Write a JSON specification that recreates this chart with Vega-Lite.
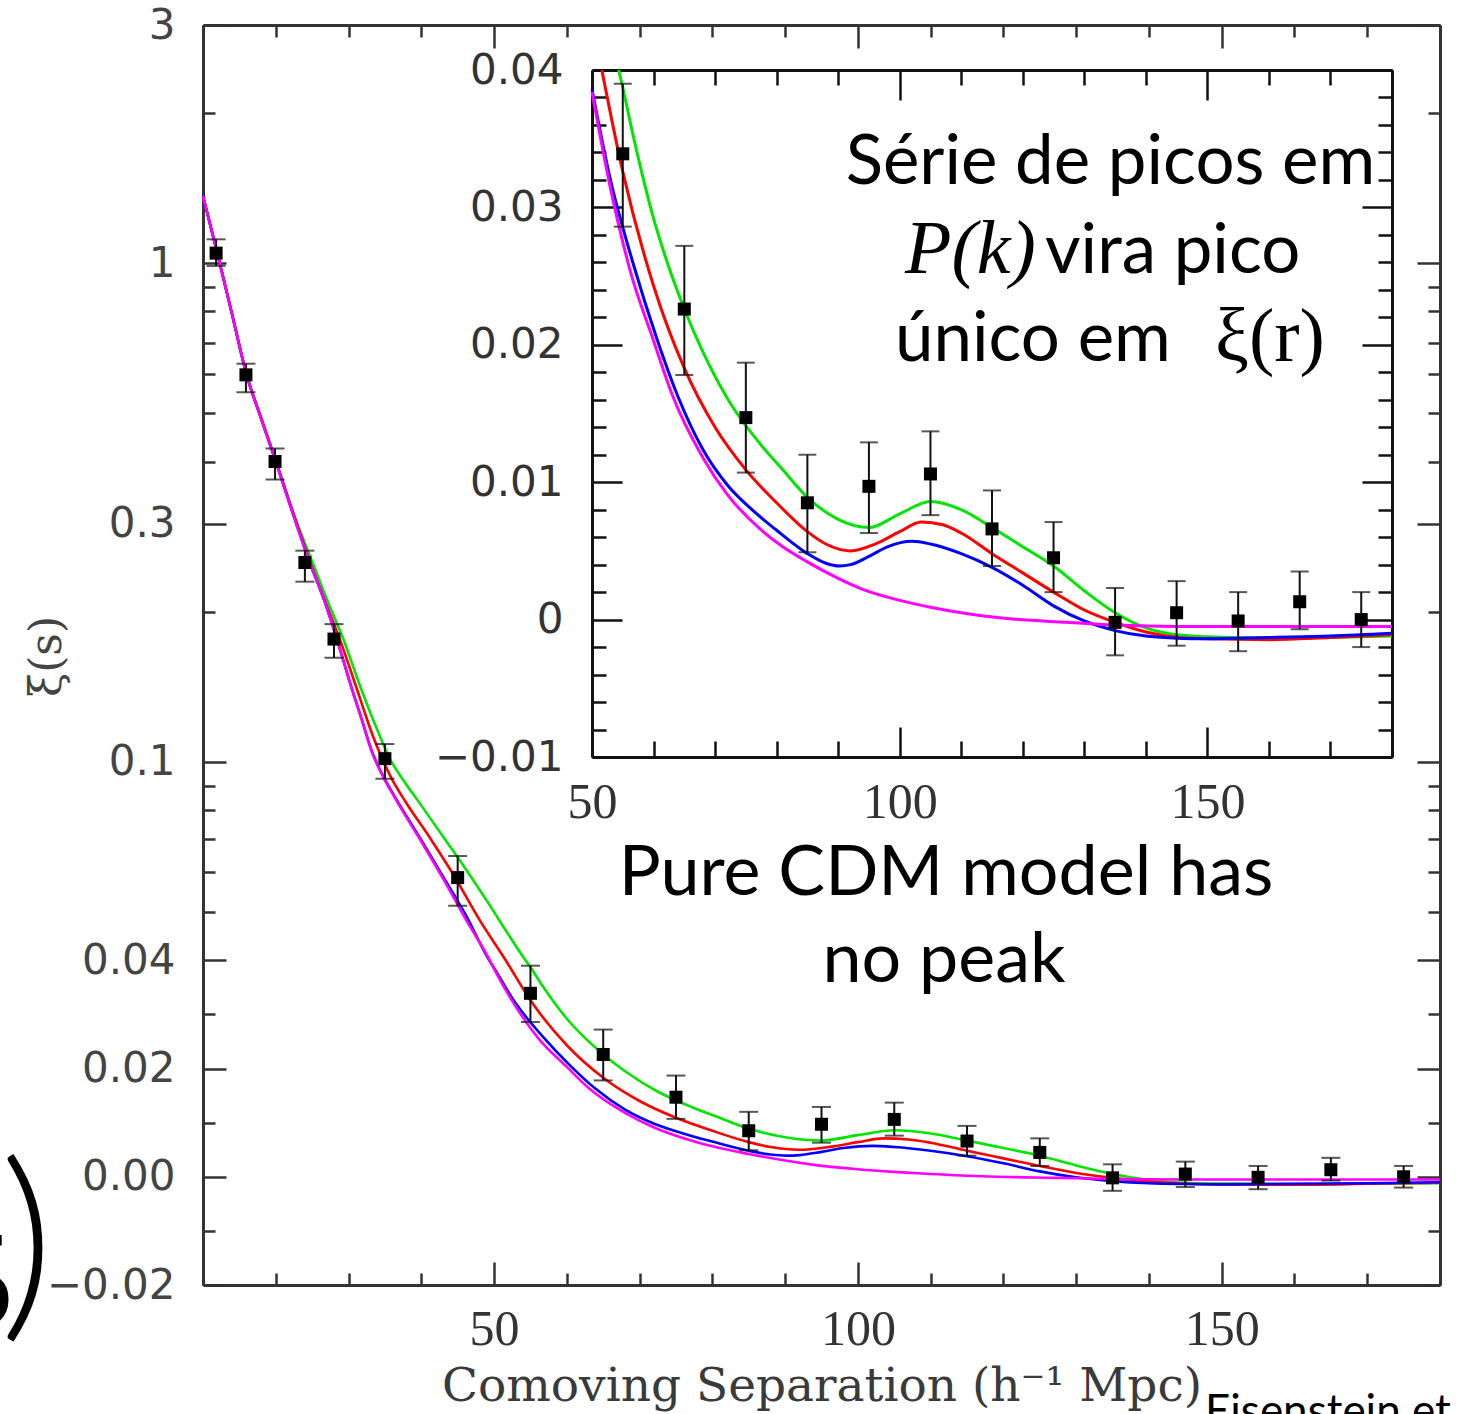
{
"$schema": "https://vega.github.io/schema/vega-lite/v6.json",
"width": 1237,
"height": 1260,
"autosize": "none",
"padding": {"left": 203, "top": 25, "right": 24, "bottom": 129},
"background": "white",
"config": {"view": {"stroke": null}, "axis": {"grid": false}},
"datasets": {
"curves": [
{"m":"green","s":10,"xi":1.37},{"m":"green","s":11.9,"xi":1.06},{"m":"green","s":14,"xi":0.79},{"m":"green","s":16,"xi":0.598},{"m":"green","s":18,"xi":0.491},{"m":"green","s":20,"xi":0.403},{"m":"green","s":22.3,"xi":0.321},{"m":"green","s":25.1,"xi":0.25},{"m":"green","s":27,"xi":0.213},{"m":"green","s":29.28,"xi":0.178},{"m":"green","s":31.85,"xi":0.1393},{"m":"green","s":34.05,"xi":0.1153},{"m":"green","s":35.7,"xi":0.1014},{"m":"green","s":37.35,"xi":0.0932},{"m":"green","s":39.82,"xi":0.0827},{"m":"green","s":43.12,"xi":0.0704},{"m":"green","s":46.24,"xi":0.0606},{"m":"green","s":49.44,"xi":0.0516},{"m":"green","s":51.86,"xi":0.0456},{"m":"green","s":54.33,"xi":0.04},{"m":"green","s":54.6,"xi":0.0395},{"m":"green","s":57,"xi":0.0346},{"m":"green","s":60,"xi":0.0292},{"m":"green","s":62,"xi":0.0263},{"m":"green","s":65.1,"xi":0.0225},{"m":"green","s":68,"xi":0.0195},{"m":"green","s":72.4,"xi":0.0158},{"m":"green","s":77.3,"xi":0.0128},{"m":"green","s":81,"xi":0.0109},{"m":"green","s":85,"xi":0.0089},{"m":"green","s":90,"xi":0.0073},{"m":"green","s":95,"xi":0.0067},{"m":"green","s":100,"xi":0.0077},{"m":"green","s":105,"xi":0.0086},{"m":"green","s":110,"xi":0.008},{"m":"green","s":115,"xi":0.0067},{"m":"green","s":120,"xi":0.0053},{"m":"green","s":125,"xi":0.0039},{"m":"green","s":130,"xi":0.0021},{"m":"green","s":135,"xi":0.0005},{"m":"green","s":140,"xi":-0.0006},{"m":"green","s":145,"xi":-0.0011},{"m":"green","s":150,"xi":-0.00125},{"m":"green","s":160,"xi":-0.00134},{"m":"green","s":170,"xi":-0.0013},{"m":"green","s":180,"xi":-0.0012},
{"m":"red","s":10,"xi":1.37},{"m":"red","s":11.9,"xi":1.06},{"m":"red","s":14,"xi":0.79},{"m":"red","s":16,"xi":0.597},{"m":"red","s":18,"xi":0.489},{"m":"red","s":20,"xi":0.401},{"m":"red","s":22.3,"xi":0.321},{"m":"red","s":24.7,"xi":0.252},{"m":"red","s":26.7,"xi":0.212},{"m":"red","s":28.83,"xi":0.1772},{"m":"red","s":31.58,"xi":0.1349},{"m":"red","s":33.23,"xi":0.1142},{"m":"red","s":34.6,"xi":0.1018},{"m":"red","s":35.97,"xi":0.0928},{"m":"red","s":37.76,"xi":0.0838},{"m":"red","s":41.2,"xi":0.0704},{"m":"red","s":44.36,"xi":0.0596},{"m":"red","s":48.07,"xi":0.0482},{"m":"red","s":51.6,"xi":0.04},{"m":"red","s":55,"xi":0.0326},{"m":"red","s":60,"xi":0.0243},{"m":"red","s":65,"xi":0.0183},{"m":"red","s":70,"xi":0.014},{"m":"red","s":75,"xi":0.0109},{"m":"red","s":80,"xi":0.0085},{"m":"red","s":85,"xi":0.0064},{"m":"red","s":88,"xi":0.0055},{"m":"red","s":92,"xi":0.005},{"m":"red","s":96,"xi":0.0055},{"m":"red","s":100,"xi":0.0064},{"m":"red","s":103.5,"xi":0.0071},{"m":"red","s":107,"xi":0.0069},{"m":"red","s":110,"xi":0.0063},{"m":"red","s":115,"xi":0.0048},{"m":"red","s":120,"xi":0.0034},{"m":"red","s":125,"xi":0.002},{"m":"red","s":130,"xi":0.0007},{"m":"red","s":135,"xi":-0.0002},{"m":"red","s":140,"xi":-0.0009},{"m":"red","s":145,"xi":-0.00128},{"m":"red","s":150,"xi":-0.0014},{"m":"red","s":160,"xi":-0.00146},{"m":"red","s":170,"xi":-0.0013},{"m":"red","s":180,"xi":-0.0011},
{"m":"blue","s":10,"xi":1.37},{"m":"blue","s":11.9,"xi":1.06},{"m":"blue","s":14,"xi":0.79},{"m":"blue","s":16,"xi":0.596},{"m":"blue","s":18,"xi":0.488},{"m":"blue","s":20,"xi":0.4},{"m":"blue","s":22.3,"xi":0.318},{"m":"blue","s":24.7,"xi":0.25},{"m":"blue","s":26.7,"xi":0.211},{"m":"blue","s":28.4,"xi":0.178},{"m":"blue","s":30.48,"xi":0.1406},{"m":"blue","s":31.85,"xi":0.1213},{"m":"blue","s":33.23,"xi":0.1051},{"m":"blue","s":34.6,"xi":0.095},{"m":"blue","s":36.39,"xi":0.0854},{"m":"blue","s":39.82,"xi":0.0704},{"m":"blue","s":42.98,"xi":0.059},{"m":"blue","s":46.14,"xi":0.0493},{"m":"blue","s":49.3,"xi":0.0401},{"m":"blue","s":50,"xi":0.0386},{"m":"blue","s":53,"xi":0.032},{"m":"blue","s":56.7,"xi":0.0259},{"m":"blue","s":60.5,"xi":0.0205},{"m":"blue","s":64,"xi":0.0162},{"m":"blue","s":68,"xi":0.0124},{"m":"blue","s":72,"xi":0.0098},{"m":"blue","s":76,"xi":0.008},{"m":"blue","s":80,"xi":0.0065},{"m":"blue","s":85,"xi":0.0048},{"m":"blue","s":88,"xi":0.0041},{"m":"blue","s":90.2,"xi":0.0039},{"m":"blue","s":92,"xi":0.004},{"m":"blue","s":95,"xi":0.0046},{"m":"blue","s":98,"xi":0.0053},{"m":"blue","s":102,"xi":0.0057},{"m":"blue","s":105,"xi":0.0055},{"m":"blue","s":110,"xi":0.0048},{"m":"blue","s":115,"xi":0.0038},{"m":"blue","s":120,"xi":0.0025},{"m":"blue","s":125,"xi":0.001},{"m":"blue","s":130,"xi":-0.0001},{"m":"blue","s":135,"xi":-0.0008},{"m":"blue","s":140,"xi":-0.0012},{"m":"blue","s":145,"xi":-0.00135},{"m":"blue","s":150,"xi":-0.0014},{"m":"blue","s":160,"xi":-0.0013},{"m":"blue","s":170,"xi":-0.0012},{"m":"blue","s":180,"xi":-0.001},
{"m":"magenta","s":10,"xi":1.37},{"m":"magenta","s":11.9,"xi":1.06},{"m":"magenta","s":14,"xi":0.79},{"m":"magenta","s":16,"xi":0.596},{"m":"magenta","s":18,"xi":0.488},{"m":"magenta","s":20,"xi":0.4},{"m":"magenta","s":22.3,"xi":0.318},{"m":"magenta","s":24.7,"xi":0.25},{"m":"magenta","s":26.7,"xi":0.211},{"m":"magenta","s":28.4,"xi":0.178},{"m":"magenta","s":30.48,"xi":0.1403},{"m":"magenta","s":31.85,"xi":0.121},{"m":"magenta","s":33.23,"xi":0.1048},{"m":"magenta","s":34.6,"xi":0.0947},{"m":"magenta","s":36.39,"xi":0.085},{"m":"magenta","s":39.82,"xi":0.0699},{"m":"magenta","s":42.98,"xi":0.0585},{"m":"magenta","s":46.14,"xi":0.0484},{"m":"magenta","s":49.4,"xi":0.04},{"m":"magenta","s":50,"xi":0.0384},{"m":"magenta","s":53,"xi":0.0314},{"m":"magenta","s":56.2,"xi":0.0254},{"m":"magenta","s":60,"xi":0.0203},{"m":"magenta","s":63,"xi":0.0164},{"m":"magenta","s":68,"xi":0.0118},{"m":"magenta","s":72,"xi":0.0091},{"m":"magenta","s":77.3,"xi":0.0066},{"m":"magenta","s":81,"xi":0.0053},{"m":"magenta","s":85,"xi":0.0042},{"m":"magenta","s":90,"xi":0.003},{"m":"magenta","s":94,"xi":0.0022},{"m":"magenta","s":100,"xi":0.0014},{"m":"magenta","s":105,"xi":0.0009},{"m":"magenta","s":110,"xi":0.0005},{"m":"magenta","s":117,"xi":0.0001},{"m":"magenta","s":127,"xi":-0.0002},{"m":"magenta","s":135,"xi":-0.0004},{"m":"magenta","s":145,"xi":-0.0005},{"m":"magenta","s":160,"xi":-0.0005},{"m":"magenta","s":180,"xi":-0.0005}
],
"pts": [
{"s":11.8,"xi":1.05,"lo":0.988,"hi":1.12},
{"s":15.9,"xi":0.597,"lo":0.553,"hi":0.632},
{"s":19.9,"xi":0.4,"lo":0.371,"hi":0.427},
{"s":24,"xi":0.251,"lo":0.231,"hi":0.266},
{"s":28,"xi":0.178,"lo":0.163,"hi":0.19},
{"s":35,"xi":0.1016,"lo":0.093,"hi":0.109},
{"s":45,"xi":0.0587,"lo":0.0516,"hi":0.0649},
{"s":55,"xi":0.0339,"lo":0.0286,"hi":0.039},
{"s":65,"xi":0.0226,"lo":0.0178,"hi":0.0272},
{"s":75,"xi":0.0147,"lo":0.0107,"hi":0.0187},
{"s":85,"xi":0.0085,"lo":0.0049,"hi":0.012},
{"s":95,"xi":0.0097,"lo":0.0063,"hi":0.0129},
{"s":105,"xi":0.0106,"lo":0.0076,"hi":0.0137},
{"s":115,"xi":0.0066,"lo":0.0039,"hi":0.0094},
{"s":125,"xi":0.0045,"lo":0.002,"hi":0.0071},
{"s":135,"xi":-0.0002,"lo":-0.0026,"hi":0.0023},
{"s":145,"xi":0.0005,"lo":-0.0019,"hi":0.0028},
{"s":155,"xi":-0.0001,"lo":-0.0023,"hi":0.002},
{"s":165,"xi":0.0013,"lo":-0.0007,"hi":0.0035},
{"s":175,"xi":0.0,"lo":-0.002,"hi":0.002}
],
"notes": [
{"g":"cs","t":"Série de picos em","s":134.25,"xi":0.0317},
{"g":"cl","t":"vira pico","s":123.61,"xi":0.02523},
{"g":"cl","t":"único em","s":99.24,"xi":0.01882},
{"g":"ci","t":"P(k)","s":100.86,"xi":0.02523},
{"g":"cg","t":"ξ(r)","s":151.24,"xi":0.01882},
{"g":"as","t":"Pure CDM model has","s":112.11,"xi":0.05424},
{"g":"as","t":"no peak","s":111.84,"xi":0.03607},
{"g":"al","t":"Eisenstein et al. 2005","s":147.7,"xi":-0.0461},
{"g":"a5","t":"5","s":-15.97,"xi":-0.0278},
{"g":"ap","t":")","s":-14.2,"xi":-0.02528}
]
},
"resolve": {"scale": {"x": "independent", "y": "independent"}, "axis": {"x": "independent", "y": "independent"}},
"layer": [
{
"layer": [
{"data": {"name": "curves"},
 "mark": {"type": "line", "interpolate": "monotone", "strokeWidth": 2.6},
 "encoding": {
  "x": {"field": "s", "type": "quantitative", "scale": {"domain": [10,180], "range": [0,1237], "zero": false, "nice": false}, "axis": null},
  "y": {"field": "xi", "type": "quantitative", "scale": {"domain": [-0.02,0.04,0.05,0.06,0.07,0.08,0.1,0.12,0.15,0.2,0.25,0.3,0.4,0.5,0.6,0.8,1,1.2,1.5,2,2.5,3], "range": [1260,935.3,886.96,847.47,814.07,785.15,736.81,697.31,648.97,586.65,538.31,498.82,436.5,388.16,348.67,286.35,238.01,198.51,150.17,87.85,39.51,0], "zero": false, "nice": false}, "axis": null},
  "color": {"field": "m", "type": "nominal", "scale": {"domain": ["green","red","blue","magenta"], "range": ["#00e600","#ff0000","#0000ff","#ff00ff"]}, "legend": null}
 }},
{"data": {"name": "pts"},
 "mark": {"type": "rule", "color": "#111", "strokeWidth": 2},
 "encoding": {
  "x": {"field": "s", "type": "quantitative", "scale": {"domain": [10,180], "range": [0,1237], "zero": false, "nice": false}, "axis": null},
  "y": {"field": "lo", "type": "quantitative", "scale": {"domain": [-0.02,0.04,0.05,0.06,0.07,0.08,0.1,0.12,0.15,0.2,0.25,0.3,0.4,0.5,0.6,0.8,1,1.2,1.5,2,2.5,3], "range": [1260,935.3,886.96,847.47,814.07,785.15,736.81,697.31,648.97,586.65,538.31,498.82,436.5,388.16,348.67,286.35,238.01,198.51,150.17,87.85,39.51,0], "zero": false, "nice": false}, "axis": null},
  "y2": {"field": "hi"}
 }},
{"data": {"name": "pts"},
 "mark": {"type": "tick", "orient": "horizontal", "color": "#111", "size": 19, "thickness": 2},
 "encoding": {
  "x": {"field": "s", "type": "quantitative", "scale": {"domain": [10,180], "range": [0,1237], "zero": false, "nice": false}, "axis": null},
  "y": {"field": "lo", "type": "quantitative", "scale": {"domain": [-0.02,0.04,0.05,0.06,0.07,0.08,0.1,0.12,0.15,0.2,0.25,0.3,0.4,0.5,0.6,0.8,1,1.2,1.5,2,2.5,3], "range": [1260,935.3,886.96,847.47,814.07,785.15,736.81,697.31,648.97,586.65,538.31,498.82,436.5,388.16,348.67,286.35,238.01,198.51,150.17,87.85,39.51,0], "zero": false, "nice": false}, "axis": null}
 }},
{"data": {"name": "pts"},
 "mark": {"type": "tick", "orient": "horizontal", "color": "#111", "size": 19, "thickness": 2},
 "encoding": {
  "x": {"field": "s", "type": "quantitative", "scale": {"domain": [10,180], "range": [0,1237], "zero": false, "nice": false}, "axis": null},
  "y": {"field": "hi", "type": "quantitative", "scale": {"domain": [-0.02,0.04,0.05,0.06,0.07,0.08,0.1,0.12,0.15,0.2,0.25,0.3,0.4,0.5,0.6,0.8,1,1.2,1.5,2,2.5,3], "range": [1260,935.3,886.96,847.47,814.07,785.15,736.81,697.31,648.97,586.65,538.31,498.82,436.5,388.16,348.67,286.35,238.01,198.51,150.17,87.85,39.51,0], "zero": false, "nice": false}, "axis": null}
 }},
{"data": {"name": "pts"},
 "mark": {"type": "square", "filled": true, "color": "#000", "size": 169, "opacity": 1},
 "encoding": {
  "x": {"field": "s", "type": "quantitative", "scale": {"domain": [10,180], "range": [0,1237], "zero": false, "nice": false}, "axis": null},
  "y": {"field": "xi", "type": "quantitative", "scale": {"domain": [-0.02,0.04,0.05,0.06,0.07,0.08,0.1,0.12,0.15,0.2,0.25,0.3,0.4,0.5,0.6,0.8,1,1.2,1.5,2,2.5,3], "range": [1260,935.3,886.96,847.47,814.07,785.15,736.81,697.31,648.97,586.65,538.31,498.82,436.5,388.16,348.67,286.35,238.01,198.51,150.17,87.85,39.51,0], "zero": false, "nice": false}, "axis": null}
 }},
{"data": {"name": "notes"}, "transform": [{"filter": "datum.g == 'as'"}],
 "mark": {"type": "text", "font": "Lato", "fontSize": 70, "align": "center", "baseline": "alphabetic", "color": "#000"},
 "encoding": {
  "x": {"field": "s", "type": "quantitative", "scale": {"domain": [10,180], "range": [0,1237], "zero": false, "nice": false}, "axis": null},
  "y": {"field": "xi", "type": "quantitative", "scale": {"domain": [-0.02,0.04,0.05,0.06,0.07,0.08,0.1,0.12,0.15,0.2,0.25,0.3,0.4,0.5,0.6,0.8,1,1.2,1.5,2,2.5,3], "range": [1260,935.3,886.96,847.47,814.07,785.15,736.81,697.31,648.97,586.65,538.31,498.82,436.5,388.16,348.67,286.35,238.01,198.51,150.17,87.85,39.51,0], "zero": false, "nice": false}, "axis": null},
  "text": {"field": "t"}
 }},
{"data": {"name": "notes"}, "transform": [{"filter": "datum.g == 'al'"}],
 "mark": {"type": "text", "font": "Lato", "fontSize": 44, "align": "left", "baseline": "alphabetic", "color": "#000"},
 "encoding": {
  "x": {"field": "s", "type": "quantitative", "scale": {"domain": [10,180], "range": [0,1237], "zero": false, "nice": false}, "axis": null},
  "y": {"field": "xi", "type": "quantitative", "scale": {"domain": [-0.02,0.04,0.05,0.06,0.07,0.08,0.1,0.12,0.15,0.2,0.25,0.3,0.4,0.5,0.6,0.8,1,1.2,1.5,2,2.5,3], "range": [1260,935.3,886.96,847.47,814.07,785.15,736.81,697.31,648.97,586.65,538.31,498.82,436.5,388.16,348.67,286.35,238.01,198.51,150.17,87.85,39.51,0], "zero": false, "nice": false}, "axis": null},
  "text": {"field": "t"}
 }},
{"data": {"name": "notes"}, "transform": [{"filter": "datum.g == 'a5'"}],
 "mark": {"type": "text", "font": "Liberation Serif", "fontSize": 140, "align": "right", "baseline": "alphabetic", "color": "#000"},
 "encoding": {
  "x": {"field": "s", "type": "quantitative", "scale": {"domain": [10,180], "range": [0,1237], "zero": false, "nice": false}, "axis": null},
  "y": {"field": "xi", "type": "quantitative", "scale": {"domain": [-0.02,0.04,0.05,0.06,0.07,0.08,0.1,0.12,0.15,0.2,0.25,0.3,0.4,0.5,0.6,0.8,1,1.2,1.5,2,2.5,3], "range": [1260,935.3,886.96,847.47,814.07,785.15,736.81,697.31,648.97,586.65,538.31,498.82,436.5,388.16,348.67,286.35,238.01,198.51,150.17,87.85,39.51,0], "zero": false, "nice": false}, "axis": null},
  "text": {"field": "t"}
 }},
{"data": {"name": "notes"}, "transform": [{"filter": "datum.g == 'ap'"}],
 "mark": {"type": "text", "font": "Lato", "fontWeight": 300, "fontSize": 210, "align": "center", "baseline": "alphabetic", "color": "#000"},
 "encoding": {
  "x": {"field": "s", "type": "quantitative", "scale": {"domain": [10,180], "range": [0,1237], "zero": false, "nice": false}, "axis": null},
  "y": {"field": "xi", "type": "quantitative", "scale": {"domain": [-0.02,0.04,0.05,0.06,0.07,0.08,0.1,0.12,0.15,0.2,0.25,0.3,0.4,0.5,0.6,0.8,1,1.2,1.5,2,2.5,3], "range": [1260,935.3,886.96,847.47,814.07,785.15,736.81,697.31,648.97,586.65,538.31,498.82,436.5,388.16,348.67,286.35,238.01,198.51,150.17,87.85,39.51,0], "zero": false, "nice": false}, "axis": null},
  "text": {"field": "t"}
 }}
]
},
{
"data": {"values": [{"s": 100, "xi": 0.5}]},
"mark": {"type": "point", "opacity": 0},
"encoding": {
 "x": {"field": "s", "type": "quantitative", "scale": {"domain": [10,180], "range": [0,1237], "zero": false, "nice": false},
  "axis": {"orient": "bottom", "values": [10,20,30,40,50,60,70,80,90,100,110,120,130,140,150,160,170,180],
   "labelExpr": "datum.value % 50 == 0 ? datum.label : ''",
   "tickSize": {"condition": {"test": "datum.value % 50 == 0", "value": -23}, "value": -12},
   "tickWidth": 2.5, "tickColor": "#333", "domainColor": "#333", "domainWidth": 3,
   "labelFont": "Liberation Serif", "labelFontSize": 50, "labelColor": "#333", "labelPadding": 42,
   "labelFlush": false, "labelOverlap": false,
   "title": "Comoving Separation (h⁻¹ Mpc)", "titleFont": "DejaVu Serif", "titleFontSize": 47, "titleFontWeight": "normal", "titleColor": "#3a3a3a", "titleY": 115, "titleBaseline": "alphabetic"}},
 "y": {"field": "xi", "type": "quantitative", "scale": {"domain": [-0.02,0.04,0.05,0.06,0.07,0.08,0.1,0.12,0.15,0.2,0.25,0.3,0.4,0.5,0.6,0.8,1,1.2,1.5,2,2.5,3], "range": [1260,935.3,886.96,847.47,814.07,785.15,736.81,697.31,648.97,586.65,538.31,498.82,436.5,388.16,348.67,286.35,238.01,198.51,150.17,87.85,39.51,0], "zero": false, "nice": false},
  "axis": {"orient": "left", "values": [-0.02,-0.01,0,0.01,0.02,0.03,0.04,0.05,0.06,0.07,0.08,0.09,0.1,0.2,0.3,0.4,0.5,0.6,0.7,0.8,0.9,1,2,3],
   "labelExpr": "datum.value == 0 ? '0.00' : datum.value == -0.02 ? '−0.02' : indexof([3,1,0.3,0.1,0.04,0.02], datum.value) >= 0 ? '' + datum.value : ''",
   "tickSize": {"condition": {"test": "indexof([3,1,0.3,0.1,0.04,0.02,0,-0.02], datum.value) >= 0", "value": -23}, "value": -12},
   "tickWidth": 2.5, "tickColor": "#333", "domainColor": "#333", "domainWidth": 3,
   "labelFont": "DejaVu Sans", "labelFontSize": 42, "labelColor": "#444", "labelPadding": 51,
   "labelFlush": false, "labelOverlap": false,
   "title": "ξ(s)", "titleFont": "DejaVu Serif", "titleFontSize": 44, "titleFontWeight": "normal", "titleColor": "#444", "titleX": -156, "titleY": 631, "titleAngle": -90, "titleAlign": "center", "titleBaseline": "middle"}}
}
},
{
"data": {"values": [{"s": 100, "xi": 0.5}]},
"mark": {"type": "point", "opacity": 0},
"encoding": {
 "x": {"field": "s", "type": "quantitative", "scale": {"domain": [10,180], "range": [0,1237], "zero": false, "nice": false},
  "axis": {"orient": "top", "values": [10,20,30,40,50,60,70,80,90,100,110,120,130,140,150,160,170,180], "labels": false, "title": null,
   "tickSize": {"condition": {"test": "datum.value % 50 == 0", "value": -23}, "value": -12},
   "tickWidth": 2.5, "tickColor": "#333", "domainColor": "#333", "domainWidth": 3}},
 "y": {"field": "xi", "type": "quantitative", "scale": {"domain": [-0.02,0.04,0.05,0.06,0.07,0.08,0.1,0.12,0.15,0.2,0.25,0.3,0.4,0.5,0.6,0.8,1,1.2,1.5,2,2.5,3], "range": [1260,935.3,886.96,847.47,814.07,785.15,736.81,697.31,648.97,586.65,538.31,498.82,436.5,388.16,348.67,286.35,238.01,198.51,150.17,87.85,39.51,0], "zero": false, "nice": false},
  "axis": {"orient": "right", "values": [-0.02,-0.01,0,0.01,0.02,0.03,0.04,0.05,0.06,0.07,0.08,0.09,0.1,0.2,0.3,0.4,0.5,0.6,0.7,0.8,0.9,1,2,3], "labels": false, "title": null,
   "tickSize": {"condition": {"test": "indexof([3,1,0.3,0.1,0.04,0.02,0,-0.02], datum.value) >= 0", "value": -23}, "value": -12},
   "tickWidth": 2.5, "tickColor": "#333", "domainColor": "#333", "domainWidth": 3}}
}
},
{
"layer": [
{"data": {"name": "curves"}, "transform": [{"filter": "datum.s >= 50 && datum.xi <= 0.0401"}],
 "mark": {"type": "line", "interpolate": "monotone", "strokeWidth": 3},
 "encoding": {
  "x": {"field": "s", "type": "quantitative", "scale": {"domain": [50,180], "range": [389,1189], "zero": false, "nice": false}, "axis": null},
  "y": {"field": "xi", "type": "quantitative", "scale": {"domain": [-0.01,0.04], "range": [732,45], "zero": false, "nice": false}, "axis": null},
  "color": {"field": "m", "type": "nominal", "scale": {"domain": ["green","red","blue","magenta"], "range": ["#00e600","#ff0000","#0000ff","#ff00ff"]}, "legend": null}
 }},
{"data": {"name": "pts"}, "transform": [{"filter": "datum.s >= 50"}],
 "mark": {"type": "rule", "color": "#111", "strokeWidth": 2},
 "encoding": {
  "x": {"field": "s", "type": "quantitative", "scale": {"domain": [50,180], "range": [389,1189], "zero": false, "nice": false}, "axis": null},
  "y": {"field": "lo", "type": "quantitative", "scale": {"domain": [-0.01,0.04], "range": [732,45], "zero": false, "nice": false}, "axis": null},
  "y2": {"field": "hi"}
 }},
{"data": {"name": "pts"}, "transform": [{"filter": "datum.s >= 50"}],
 "mark": {"type": "tick", "orient": "horizontal", "color": "#111", "size": 18, "thickness": 2},
 "encoding": {
  "x": {"field": "s", "type": "quantitative", "scale": {"domain": [50,180], "range": [389,1189], "zero": false, "nice": false}, "axis": null},
  "y": {"field": "lo", "type": "quantitative", "scale": {"domain": [-0.01,0.04], "range": [732,45], "zero": false, "nice": false}, "axis": null}
 }},
{"data": {"name": "pts"}, "transform": [{"filter": "datum.s >= 50"}],
 "mark": {"type": "tick", "orient": "horizontal", "color": "#111", "size": 18, "thickness": 2},
 "encoding": {
  "x": {"field": "s", "type": "quantitative", "scale": {"domain": [50,180], "range": [389,1189], "zero": false, "nice": false}, "axis": null},
  "y": {"field": "hi", "type": "quantitative", "scale": {"domain": [-0.01,0.04], "range": [732,45], "zero": false, "nice": false}, "axis": null}
 }},
{"data": {"name": "pts"}, "transform": [{"filter": "datum.s >= 50"}],
 "mark": {"type": "square", "filled": true, "color": "#000", "size": 169, "opacity": 1},
 "encoding": {
  "x": {"field": "s", "type": "quantitative", "scale": {"domain": [50,180], "range": [389,1189], "zero": false, "nice": false}, "axis": null},
  "y": {"field": "xi", "type": "quantitative", "scale": {"domain": [-0.01,0.04], "range": [732,45], "zero": false, "nice": false}, "axis": null}
 }},
{"data": {"name": "notes"}, "transform": [{"filter": "datum.g == 'cs'"}],
 "mark": {"type": "text", "font": "Lato", "fontSize": 69, "align": "center", "baseline": "alphabetic", "color": "#000"},
 "encoding": {
  "x": {"field": "s", "type": "quantitative", "scale": {"domain": [50,180], "range": [389,1189], "zero": false, "nice": false}, "axis": null},
  "y": {"field": "xi", "type": "quantitative", "scale": {"domain": [-0.01,0.04], "range": [732,45], "zero": false, "nice": false}, "axis": null},
  "text": {"field": "t"}
 }},
{"data": {"name": "notes"}, "transform": [{"filter": "datum.g == 'cl'"}],
 "mark": {"type": "text", "font": "Lato", "fontSize": 69, "align": "left", "baseline": "alphabetic", "color": "#000"},
 "encoding": {
  "x": {"field": "s", "type": "quantitative", "scale": {"domain": [50,180], "range": [389,1189], "zero": false, "nice": false}, "axis": null},
  "y": {"field": "xi", "type": "quantitative", "scale": {"domain": [-0.01,0.04], "range": [732,45], "zero": false, "nice": false}, "axis": null},
  "text": {"field": "t"}
 }},
{"data": {"name": "notes"}, "transform": [{"filter": "datum.g == 'ci'"}],
 "mark": {"type": "text", "font": "Liberation Serif", "fontStyle": "italic", "fontSize": 76, "align": "left", "baseline": "alphabetic", "color": "#000"},
 "encoding": {
  "x": {"field": "s", "type": "quantitative", "scale": {"domain": [50,180], "range": [389,1189], "zero": false, "nice": false}, "axis": null},
  "y": {"field": "xi", "type": "quantitative", "scale": {"domain": [-0.01,0.04], "range": [732,45], "zero": false, "nice": false}, "axis": null},
  "text": {"field": "t"}
 }},
{"data": {"name": "notes"}, "transform": [{"filter": "datum.g == 'cg'"}],
 "mark": {"type": "text", "font": "Liberation Serif", "fontSize": 76, "align": "left", "baseline": "alphabetic", "color": "#000"},
 "encoding": {
  "x": {"field": "s", "type": "quantitative", "scale": {"domain": [50,180], "range": [389,1189], "zero": false, "nice": false}, "axis": null},
  "y": {"field": "xi", "type": "quantitative", "scale": {"domain": [-0.01,0.04], "range": [732,45], "zero": false, "nice": false}, "axis": null},
  "text": {"field": "t"}
 }}
]
},
{
"data": {"values": [{"s": 100, "xi": 0.01}]},
"mark": {"type": "point", "opacity": 0},
"encoding": {
 "x": {"field": "s", "type": "quantitative", "scale": {"domain": [50,180], "range": [389,1189], "zero": false, "nice": false},
  "axis": {"orient": "bottom", "offset": -528, "values": [50,60,70,80,90,100,110,120,130,140,150,160,170,180],
   "labelExpr": "datum.value % 50 == 0 ? datum.label : ''",
   "tickSize": {"condition": {"test": "datum.value % 50 == 0", "value": -30}, "value": -16},
   "tickWidth": 2.5, "tickColor": "#111", "domainColor": "#111", "domainWidth": 3,
   "labelFont": "Liberation Serif", "labelFontSize": 50, "labelColor": "#333", "labelPadding": 50,
   "labelFlush": false, "labelOverlap": false, "title": null}},
 "y": {"field": "xi", "type": "quantitative", "scale": {"domain": [-0.01,0.04], "range": [732,45], "zero": false, "nice": false},
  "axis": {"orient": "left", "offset": -389, "values": [-0.01,-0.008,-0.006,-0.004,-0.002,0,0.002,0.004,0.006,0.008,0.01,0.012,0.014,0.016,0.018,0.02,0.022,0.024,0.026,0.028,0.03,0.032,0.034,0.036,0.038,0.04],
   "labelExpr": "abs(datum.value*100 - round(datum.value*100)) < 1e-6 ? (datum.value < -0.005 ? '−0.01' : abs(datum.value) < 1e-9 ? '0' : format(datum.value, '.2f')) : ''",
   "tickSize": {"condition": {"test": "abs(datum.value*100 - round(datum.value*100)) < 1e-6", "value": -30}, "value": -14},
   "tickWidth": 2.5, "tickColor": "#111", "domainColor": "#111", "domainWidth": 3,
   "labelFont": "DejaVu Sans", "labelFontSize": 42, "labelColor": "#333", "labelPadding": 59,
   "labelFlush": false, "labelOverlap": false, "title": null}}
}
},
{
"data": {"values": [{"s": 100, "xi": 0.01}]},
"mark": {"type": "point", "opacity": 0},
"encoding": {
 "x": {"field": "s", "type": "quantitative", "scale": {"domain": [50,180], "range": [389,1189], "zero": false, "nice": false},
  "axis": {"orient": "top", "offset": -45, "values": [50,60,70,80,90,100,110,120,130,140,150,160,170,180], "labels": false, "title": null,
   "tickSize": {"condition": {"test": "datum.value % 50 == 0", "value": -30}, "value": -15},
   "tickWidth": 2.5, "tickColor": "#111", "domainColor": "#111", "domainWidth": 3}},
 "y": {"field": "xi", "type": "quantitative", "scale": {"domain": [-0.01,0.04], "range": [732,45], "zero": false, "nice": false},
  "axis": {"orient": "right", "offset": -48, "values": [-0.01,-0.008,-0.006,-0.004,-0.002,0,0.002,0.004,0.006,0.008,0.01,0.012,0.014,0.016,0.018,0.02,0.022,0.024,0.026,0.028,0.03,0.032,0.034,0.036,0.038,0.04], "labels": false, "title": null,
   "tickSize": {"condition": {"test": "abs(datum.value*100 - round(datum.value*100)) < 1e-6", "value": -30}, "value": -14},
   "tickWidth": 2.5, "tickColor": "#111", "domainColor": "#111", "domainWidth": 3}}
}
}
]
}
